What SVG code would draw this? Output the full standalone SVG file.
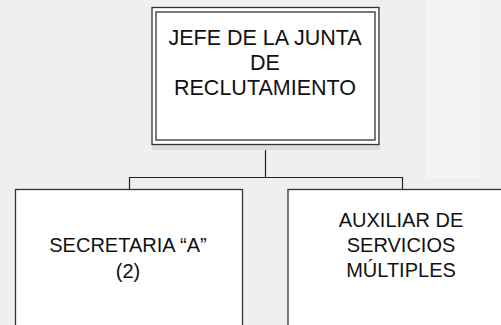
<svg xmlns="http://www.w3.org/2000/svg" width="501" height="325" viewBox="0 0 501 325">
<style>
.box{fill:#fff;stroke:#333;stroke-width:1.3}
.txt{font-family:"Liberation Sans",Arial,sans-serif;fill:#111;text-anchor:middle}
.con{fill:none;stroke:#222;stroke-width:1.2}
</style>
<rect x="0" y="0" width="501" height="325" fill="#efefef"/>
<rect x="425" y="0" width="55" height="178" fill="#f4f4f4"/>
<rect x="480" y="0" width="21" height="178" fill="#f1f1f1"/>
<g id="connectors">
<path class="con" d="M265.5,145 V177.5 M129.5,189 V177.5 H402.5 V189"/>
</g>
<g id="jefe">
<rect x="152" y="145" width="228" height="5" fill="#dcdcdc"/>
<rect class="box" x="152" y="7.5" width="227" height="137"/>
<rect x="156" y="12" width="219" height="128" fill="none" stroke="#333" stroke-width="1.3"/>
<text class="txt" font-size="21.5"><tspan x="265" y="45">JEFE DE LA JUNTA</tspan><tspan x="265" y="70">DE</tspan><tspan x="265" y="95">RECLUTAMIENTO</tspan></text>
</g>
<g id="secretaria">
<rect class="box" x="15.5" y="189.5" width="227" height="145"/>
<text class="txt" font-size="20"><tspan x="128" y="252">SECRETARIA “A”</tspan><tspan x="128" y="278">(2)</tspan></text>
</g>
<g id="auxiliar">
<rect class="box" x="288" y="189.5" width="227" height="145"/>
<text class="txt" font-size="20"><tspan x="401" y="227">AUXILIAR DE</tspan><tspan x="401" y="252">SERVICIOS</tspan><tspan x="401" y="277">MÚLTIPLES</tspan></text>
</g>
</svg>
